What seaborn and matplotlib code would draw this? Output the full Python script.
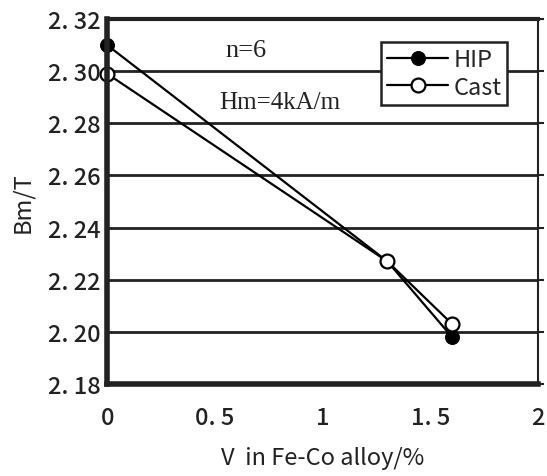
import numpy as np
import pandas as pd
import matplotlib
matplotlib.use("Agg")
import matplotlib.pyplot as plt
import seaborn as sns

# Values
v_content = [0.0, 1.3, 1.6]
bm_hip = [2.310, 2.227, 2.198]
bm_cast = [2.299, 2.227, 2.203]

y_ticks = [2.18, 2.20, 2.22, 2.24, 2.26, 2.28, 2.30, 2.32]
y_tick_labels = ["2. 18", "2. 20", "2. 22", "2. 24", "2. 26", "2. 28", "2. 30", "2. 32"]
x_ticks = [0, 0.5, 1, 1.5, 2]
x_tick_labels = ["0", "0. 5", "1", "1. 5", "2"]

sns.set_theme(style="white")
plt.rcParams["font.family"] = ["Noto Sans CJK JP", "DejaVu Sans"]

df = pd.DataFrame({
    "V": v_content * 2,
    "Bm": bm_hip + bm_cast,
    "sample": ["HIP"] * len(v_content) + ["Cast"] * len(v_content),
})

fig = plt.figure(figsize=(5.47, 4.77), dpi=100)
ax = fig.add_axes([0.196, 0.193, 0.788, 0.765])

# grid first so the lines sit on top
for y in y_ticks[1:-1]:
    ax.axhline(y, color="#222222", lw=2.0, zorder=1)

sns.lineplot(data=df[df["sample"] == "HIP"], x="V", y="Bm", ax=ax, color="black",
             lw=1.6, marker="o", markersize=10, markerfacecolor="black",
             markeredgecolor="black", label="HIP", zorder=3, clip_on=False)
sns.lineplot(data=df[df["sample"] == "Cast"], x="V", y="Bm", ax=ax, color="black",
             lw=1.6, marker="o", markersize=10, markerfacecolor="white",
             markeredgecolor="black", markeredgewidth=1.6, label="Cast", zorder=4,
             clip_on=False)

ax.set_xlim(0, 2)
ax.set_ylim(2.18, 2.32)
ax.set_xticks(x_ticks)
ax.set_xticklabels(x_tick_labels, fontsize=17, fontweight="medium")
ax.set_yticks(y_ticks)
ax.set_yticklabels(y_tick_labels, fontsize=17, fontweight="medium")
ax.tick_params(axis="x", direction="in", length=5, width=1.5, pad=16, colors="#222222")
ax.tick_params(axis="y", direction="out", length=4, width=1.5, pad=1, colors="#222222",
               right=True)
for lab in ax.get_xticklabels() + ax.get_yticklabels():
    lab.set_color("#222222")

ax.spines["left"].set_linewidth(4)
ax.spines["bottom"].set_linewidth(4)
ax.spines["top"].set_linewidth(3)
ax.spines["right"].set_linewidth(1.5)
for s in ax.spines.values():
    s.set_color("#222222")
    s.set_zorder(5)

ax.set_xlabel("V  in Fe-Co alloy/%", fontsize=17, color="#222222", labelpad=12)
ax.set_ylabel("Bm/T", fontsize=17, color="#222222", labelpad=10)

ax.text(0.55, 2.308, "n=6", fontsize=19, family=["Liberation Serif"], color="#222222",
        ha="left", va="center")
ax.text(0.52, 2.288, "Hm=4kA/m", fontsize=18, family=["Liberation Serif"],
        color="#222222", ha="left", va="center")

leg = ax.legend(loc="upper right", bbox_to_anchor=(0.928, 0.937), fontsize=17,
                frameon=True, fancybox=False, framealpha=1, edgecolor="#222222",
                handlelength=2.6, handletextpad=0.2, borderpad=0.25, labelspacing=0.2,
                borderaxespad=0)
leg.get_frame().set_linewidth(1.8)
leg.set_zorder(6)

fig.savefig("out.png", dpi=100, facecolor="white")
